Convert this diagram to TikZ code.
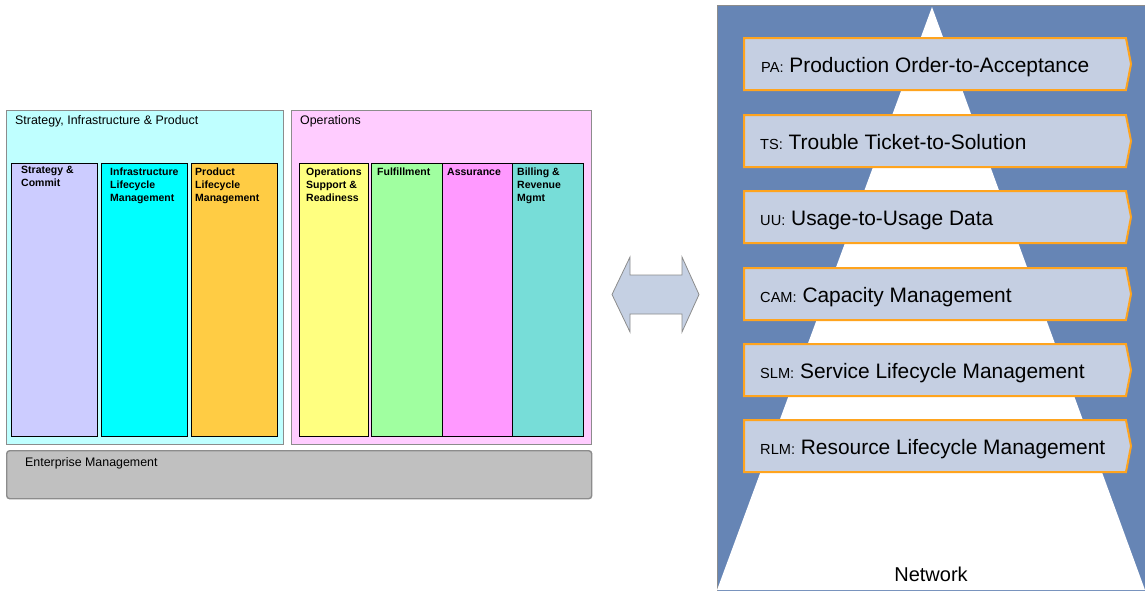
\documentclass[tikz,border=0pt]{standalone}
\usepackage{fontspec}
\setmainfont{Liberation Sans}
\usetikzlibrary{positioning,calc,shapes.symbols}
\definecolor{SipCyan}{HTML}{BFFFFF}
\definecolor{OpsPink}{HTML}{FFCCFF}
\definecolor{EmGray}{HTML}{C0C0C0}
\definecolor{FrameGray}{HTML}{8C8C8C}
\definecolor{ScLilac}{HTML}{CCCCFF}
\definecolor{IlmCyan}{HTML}{00FFFF}
\definecolor{PlmGold}{HTML}{FFCC44}
\definecolor{OsrYellow}{HTML}{FFFF80}
\definecolor{FulGreen}{HTML}{A0FFA0}
\definecolor{AsrPink}{HTML}{FF99FF}
\definecolor{BrmTeal}{HTML}{77DDD8}
\definecolor{LinkFill}{HTML}{C5D0E3}
\definecolor{NetBlue}{HTML}{6685B5}
\definecolor{BandFill}{HTML}{C5CFE2}
\definecolor{BandOrange}{HTML}{FFA41E}
\newcommand{\bandabbr}[1]{{\fontsize{14.6}{16}\selectfont #1}}
\tikzset{
	grp/.style={draw=FrameGray,line width=1.4pt,anchor=north west,inner sep=0pt,minimum height=334pt},
	col/.style={draw=black,line width=1.3pt,anchor=north west,inner sep=0pt,minimum height=273pt},
	grptxt/.style={anchor=north west,inner sep=0pt,font=\fontsize{12.4}{14}\selectfont},
	coltxt/.style={anchor=north west,inner sep=0pt,align=left,font=\fontsize{10.5}{13}\selectfont\bfseries},
	band/.style={signal,signal to=east,signal pointer angle=158,draw=BandOrange,line width=2pt,
		fill=BandFill,minimum width=387pt,minimum height=52pt,anchor=west,inner sep=0pt},
	bandtxt/.style={anchor=base west,inner sep=0pt,font=\fontsize{20.9}{24}\selectfont},
}

\begin{document}
\begin{tikzpicture}[x=1pt,y=-1pt]
	\useasboundingbox (0,0) rectangle (1145,590);
	% groups
	\node[grp,fill=SipCyan,minimum width=277pt] (sip) at (6,110) {};
	\node[grp,fill=OpsPink,minimum width=300pt] (ops) at (291,110) {};
	\node[grp,fill=EmGray,rounded corners=3pt,minimum width=585pt,minimum height=48pt] (em) at (6,450) {};
	\node[grptxt] (siptxt) at ($(sip.north west)+(9,5)$) {Strategy, Infrastructure \& Product};
	\node[grptxt] (opstxt) at ($(ops.north west)+(9,5)$) {Operations};
	\node[grptxt] (emtxt) at ($(em.north west)+(19,7)$) {Enterprise Management};
	% columns
	\node[col,fill=ScLilac,minimum width=86pt] (sc) at (11,163) {};
	\node[col,fill=IlmCyan,minimum width=86pt] (ilm) at (101,163) {};
	\node[col,fill=PlmGold,minimum width=86pt] (plm) at (191,163) {};
	\node[col,fill=OsrYellow,minimum width=69pt] (osr) at (299,163) {};
	\node[col,fill=FulGreen,minimum width=71pt] (ful) at (371,163) {};
	\node[col,fill=AsrPink,minimum width=70pt] (asr) at (442,163) {};
	\node[col,fill=BrmTeal,minimum width=71pt] (brm) at (512,163) {};
	\node[coltxt] at ($(sc.north west)+(10,3)$) {Strategy \&\\Commit};
	\node[coltxt] at ($(ilm.north west)+(9,5)$) {Infrastructure\\Lifecycle\\Management};
	\node[coltxt] at ($(plm.north west)+(4,5)$) {Product\\Lifecycle\\Management};
	\node[coltxt] at ($(osr.north west)+(7,5)$) {Operations\\Support \&\\Readiness};
	\node[coltxt] at ($(ful.north west)+(6,5)$) {Fulfillment};
	\node[coltxt] at ($(asr.north west)+(5,5)$) {Assurance};
	\node[coltxt] at ($(brm.north west)+(5,5)$) {Billing \&\\Revenue\\Mgmt};
	% link arrow
	\draw[draw=FrameGray,fill=LinkFill,line width=0.8pt] (612,294.5) -- (630,257) -- (630,275) -- (682,275)
		-- (682,257) -- (699,294.5) -- (682,332) -- (682,314) -- (630,314) -- (630,332) -- cycle;
	% network pyramid
	\draw[draw=FrameGray,fill=NetBlue,line width=1pt] (717,5) rectangle (1146,591);
	\fill[white] (932,7) -- (1145,590) -- (717,590) -- cycle;
	\node[band] (pa) at (743,64) {};
	\node[band] (ts) at (743,141) {};
	\node[band] (uu) at (743,217) {};
	\node[band] (cam) at (743,294) {};
	\node[band] (slm) at (743,370) {};
	\node[band] (rlm) at (743,446) {};
	\node[bandtxt] at ($(pa.west)+(18,8.5)$) {\bandabbr{PA:} Production Order-to-Acceptance};
	\node[bandtxt] at ($(ts.west)+(17,8.5)$) {\bandabbr{TS:} Trouble Ticket-to-Solution};
	\node[bandtxt] at ($(uu.west)+(17,8.5)$) {\bandabbr{UU:} Usage-to-Usage Data};
	\node[bandtxt] at ($(cam.west)+(17,8.5)$) {\bandabbr{CAM:} Capacity Management};
	\node[bandtxt] at ($(slm.west)+(17,8.5)$) {\bandabbr{SLM:} Service Lifecycle Management};
	\node[bandtxt] at ($(rlm.west)+(17,8.5)$) {\bandabbr{RLM:} Resource Lifecycle Management};
	\node[anchor=base,inner sep=0pt,font=\fontsize{20}{24}\selectfont] (net) at (931,581) {Network};
\end{tikzpicture}
\end{document}
